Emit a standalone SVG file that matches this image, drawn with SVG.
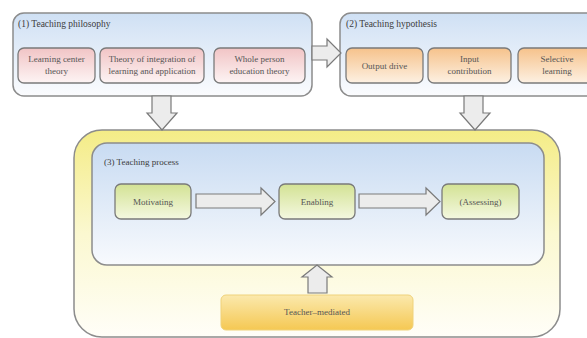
<svg xmlns="http://www.w3.org/2000/svg" width="587" height="338" viewBox="0 0 587 338">
<defs>
<linearGradient id="gBlue" x1="0" y1="0" x2="0" y2="1"><stop offset="0" stop-color="#cfe0f4"/><stop offset="1" stop-color="#fbfcfe"/></linearGradient>
<linearGradient id="gPink" x1="0" y1="0" x2="0" y2="1"><stop offset="0" stop-color="#f1c4c5"/><stop offset="1" stop-color="#fdf4f4"/></linearGradient>
<linearGradient id="gOrange" x1="0" y1="0" x2="0" y2="1"><stop offset="0" stop-color="#f6c28b"/><stop offset="1" stop-color="#fdf1e3"/></linearGradient>
<linearGradient id="gGreen" x1="0" y1="0" x2="0" y2="1"><stop offset="0" stop-color="#d3e294"/><stop offset="1" stop-color="#f4f8e0"/></linearGradient>
<linearGradient id="gYellow" x1="0" y1="0" x2="0" y2="1"><stop offset="0" stop-color="#f4ec86"/><stop offset="0.5" stop-color="#fbf8d0"/><stop offset="1" stop-color="#fffef8"/></linearGradient>
<linearGradient id="gInner" x1="0" y1="0" x2="0" y2="1"><stop offset="0" stop-color="#c8dbf2"/><stop offset="1" stop-color="#f8fafd"/></linearGradient>
<linearGradient id="gTeacher" x1="0" y1="0" x2="0" y2="1"><stop offset="0" stop-color="#fbe9ad"/><stop offset="1" stop-color="#f5c853"/></linearGradient>
</defs>
<style>
.frame{stroke:#8c8c8c;stroke-width:1.5}
.box{stroke:#7a7a7a;stroke-width:1.3}
.arrow{fill:#ececec;stroke:#7a7a7a;stroke-width:1.2;stroke-linejoin:miter}
text{font-family:"Liberation Serif","DejaVu Serif",serif;font-size:9px;fill:#555;text-anchor:middle}
.title{text-anchor:start;fill:#3c3c3c;font-size:9.5px}
</style>
<rect width="587" height="338" fill="#ffffff"/>

<g id="philosophy">
<rect x="13" y="13" width="299" height="83" rx="11" fill="url(#gBlue)" class="frame"/>
<text class="title" x="18" y="27">(1) Teaching philosophy</text>
<g id="learning-center">
<rect x="18" y="48" width="77" height="35" rx="6" fill="url(#gPink)" class="box"/>
<text x="56.5" y="62">Learning center</text><text x="56.5" y="74">theory</text>
</g>
<g id="integration">
<rect x="100" y="48" width="104" height="35" rx="6" fill="url(#gPink)" class="box"/>
<text x="152" y="62">Theory of integration of</text><text x="152" y="74">learning and application</text>
</g>
<g id="whole-person">
<rect x="214" y="48" width="91" height="35" rx="6" fill="url(#gPink)" class="box"/>
<text x="259.5" y="62">Whole person</text><text x="259.5" y="74">education theory</text>
</g>
</g>

<g id="hypothesis">
<rect x="340" y="13" width="262" height="83" rx="11" fill="url(#gBlue)" class="frame"/>
<text class="title" x="346" y="27">(2) Teaching hypothesis</text>
<g id="output-drive">
<rect x="346" y="48" width="77" height="35" rx="6" fill="url(#gOrange)" class="box"/>
<text x="384.5" y="68.5">Output drive</text>
</g>
<g id="input-contribution">
<rect x="428" y="48" width="83" height="35" rx="6" fill="url(#gOrange)" class="box"/>
<text x="469.5" y="62">Input</text><text x="469.5" y="74">contribution</text>
</g>
<g id="selective-learning">
<rect x="518" y="48" width="80" height="35" rx="6" fill="url(#gOrange)" class="box"/>
<text x="557" y="62">Selective</text><text x="557" y="74">learning</text>
</g>
</g>

<g id="context">
<rect x="74" y="130" width="486" height="207" rx="28" fill="url(#gYellow)" class="frame"/>
</g>

<g id="process">
<rect x="92" y="143" width="452" height="122" rx="15" fill="url(#gInner)" class="frame"/>
<text class="title" x="104" y="165" style="font-size:9px">(3) Teaching process</text>
<g id="motivating">
<rect x="115" y="184" width="76" height="35" rx="6" fill="url(#gGreen)" class="box"/>
<text x="153" y="204.5">Motivating</text>
</g>
<g id="enabling">
<rect x="279" y="184" width="76" height="35" rx="6" fill="url(#gGreen)" class="box"/>
<text x="317" y="204.5">Enabling</text>
</g>
<g id="assessing">
<rect x="442" y="184" width="77" height="35" rx="6" fill="url(#gGreen)" class="box"/>
<text x="480.5" y="204.5">(Assessing)</text>
</g>
</g>

<g id="teacher-mediated">
<rect x="221" y="295" width="192" height="35" rx="5" fill="url(#gTeacher)" stroke="#efd27a" stroke-width="1"/>
<text x="317" y="315">Teacher–mediated</text>
</g>

<g id="connectors">
<polygon class="arrow" points="312,46 327,46 327,39 341,53 327,67 327,60 312,60"/>
<polygon class="arrow" points="152,96 171,96 171,113 177,113 162,130 147,113 152,113"/>
<polygon class="arrow" points="464,96 483,96 483,113 490,113 475,130 460,113 464,113"/>
<polygon class="arrow" points="196,194 261,194 261,188 275,201.5 261,215 261,208 196,208"/>
<polygon class="arrow" points="359,194 426,194 426,188 440,201.5 426,215 426,208 359,208"/>
<polygon class="arrow" points="308,293 308,277 302,277 317,265 332,277 327,277 327,293"/>
</g>
</svg>
